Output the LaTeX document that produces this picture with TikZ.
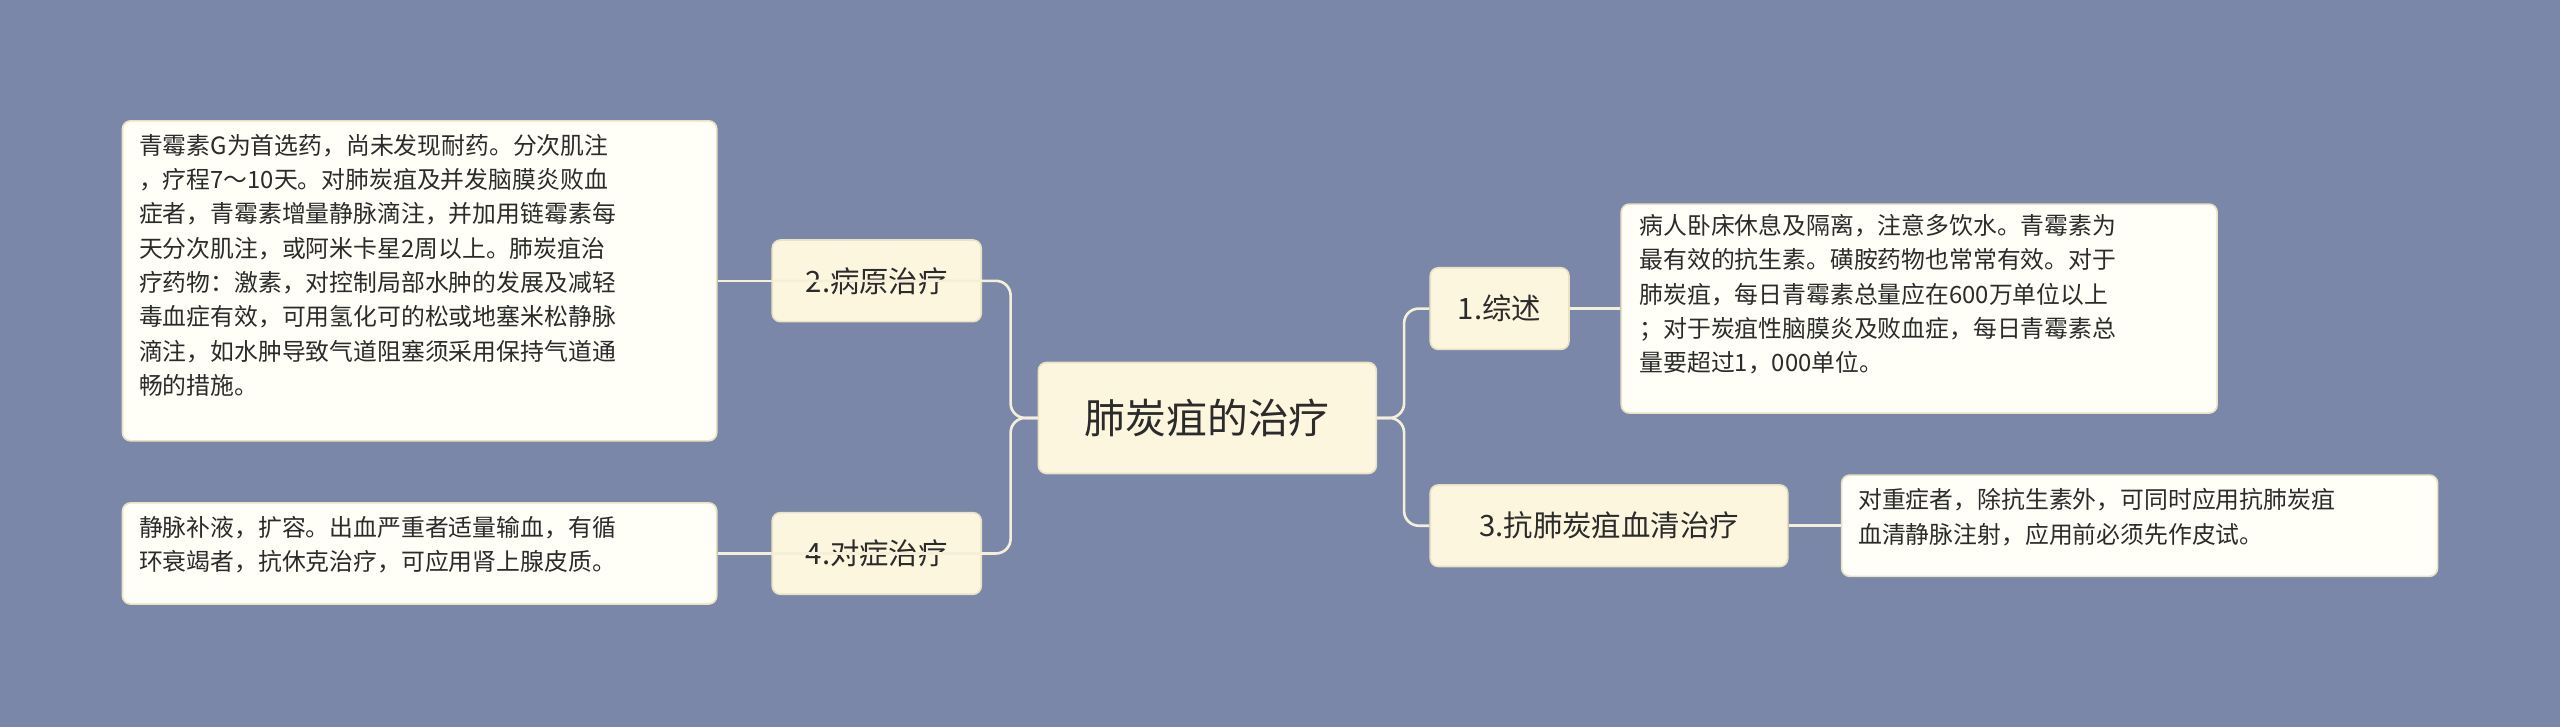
\documentclass[tikz,border=0pt]{standalone}
\usepackage{fontspec}
\setmainfont{Noto Sans CJK SC}
\begin{document}
\begin{tikzpicture}[x=1pt,y=-1pt,
  conn/.style={draw=linec,line width=1.6pt,rounded corners=9pt},
  box/.style={draw=bordc,line width=1pt,rounded corners=5pt,fill=#1,inner sep=0pt},
  leaf/.style={anchor=north west,align=left,font=\fontsize{14.6}{21}\selectfont,text=txtc,inner sep=0pt}]
\definecolor{bg}{HTML}{7A87A8}
\definecolor{linec}{HTML}{F4EFD9}
\definecolor{bordc}{HTML}{E9E2C4}
\definecolor{cream}{HTML}{FDF6DF}
\definecolor{leafc}{HTML}{FFFFF8}
\definecolor{txtc}{HTML}{2B2B2B}
\useasboundingbox[fill=bg] (0,0) rectangle (1568,445);
% center
\draw[box=cream] (636,222) rectangle (843,290);
\node (c) [minimum width=207pt,minimum height=68pt,inner sep=0pt] at (739.5,256) {};
\node at (c) {\fontsize{25}{30}\selectfont\color{txtc}肺炭疽的治疗};
% branches
\node (b1) [box=cream,minimum width=85pt,minimum height=50pt,font=\fontsize{18}{22}\selectfont,text=txtc] at (918.5,189) {1.综述};
\node (b3) [box=cream,minimum width=219pt,minimum height=50pt,font=\fontsize{18}{22}\selectfont,text=txtc] at (985.5,322) {3.抗肺炭疽血清治疗};
\node (b2) [box=cream,minimum width=128pt,minimum height=50pt,font=\fontsize{18}{22}\selectfont,text=txtc] at (537,172) {2.病原治疗};
\node (b4) [box=cream,minimum width=128pt,minimum height=50pt,font=\fontsize{18}{22}\selectfont,text=txtc] at (537,339) {4.对症治疗};
% leaves
\node (l1) [box=leafc,minimum width=365pt,minimum height=128pt] at (1175.5,189) {};
\node[leaf] at (1004,131) {病人卧床休息及隔离，注意多饮水。青霉素为\\最有效的抗生素。磺胺药物也常常有效。对于\\肺炭疽，每日青霉素总量应在600万单位以上\\；对于炭疽性脑膜炎及败血症，每日青霉素总\\量要超过1，000单位。};
\node (l3) [box=leafc,minimum width=365pt,minimum height=62pt] at (1310.5,322) {};
\node[leaf] at (1138,299) {对重症者，除抗生素外，可同时应用抗肺炭疽\\血清静脉注射，应用前必须先作皮试。};
\node (l2) [box=leafc,minimum width=364pt,minimum height=196pt] at (257,172) {};
\node[leaf] at (85,82) {青霉素G为首选药，尚未发现耐药。分次肌注\\，疗程7～10天。对肺炭疽及并发脑膜炎败血\\症者，青霉素增量静脉滴注，并加用链霉素每\\天分次肌注，或阿米卡星2周以上。肺炭疽治\\疗药物：激素，对控制局部水肿的发展及减轻\\毒血症有效，可用氢化可的松或地塞米松静脉\\滴注，如水肿导致气道阻塞须采用保持气道通\\畅的措施。};
\node (l4) [box=leafc,minimum width=364pt,minimum height=62pt] at (257,339) {};
\node[leaf] at (85,316) {静脉补液，扩容。出血严重者适量输血，有循\\环衰竭者，抗休克治疗，可应用肾上腺皮质。};
% connectors
\coordinate (jl) at (619,256);
\coordinate (jr) at (860,256);
\draw[conn] (c.west) -- (jl) |- (b2.west);
\draw[conn] (c.west) -- (jl) |- (b4.west);
\draw[conn] (c.east) -- (jr) |- (b1.west);
\draw[conn] (c.east) -- (jr) |- (b3.west);
\draw[conn] (b1.east) -- (l1.west);
\draw[conn] (b3.east) -- (l3.west);
\draw[conn] (b2.west) -- (l2.east);
\draw[conn] (b4.west) -- (l4.east);
\end{tikzpicture}
\end{document}
